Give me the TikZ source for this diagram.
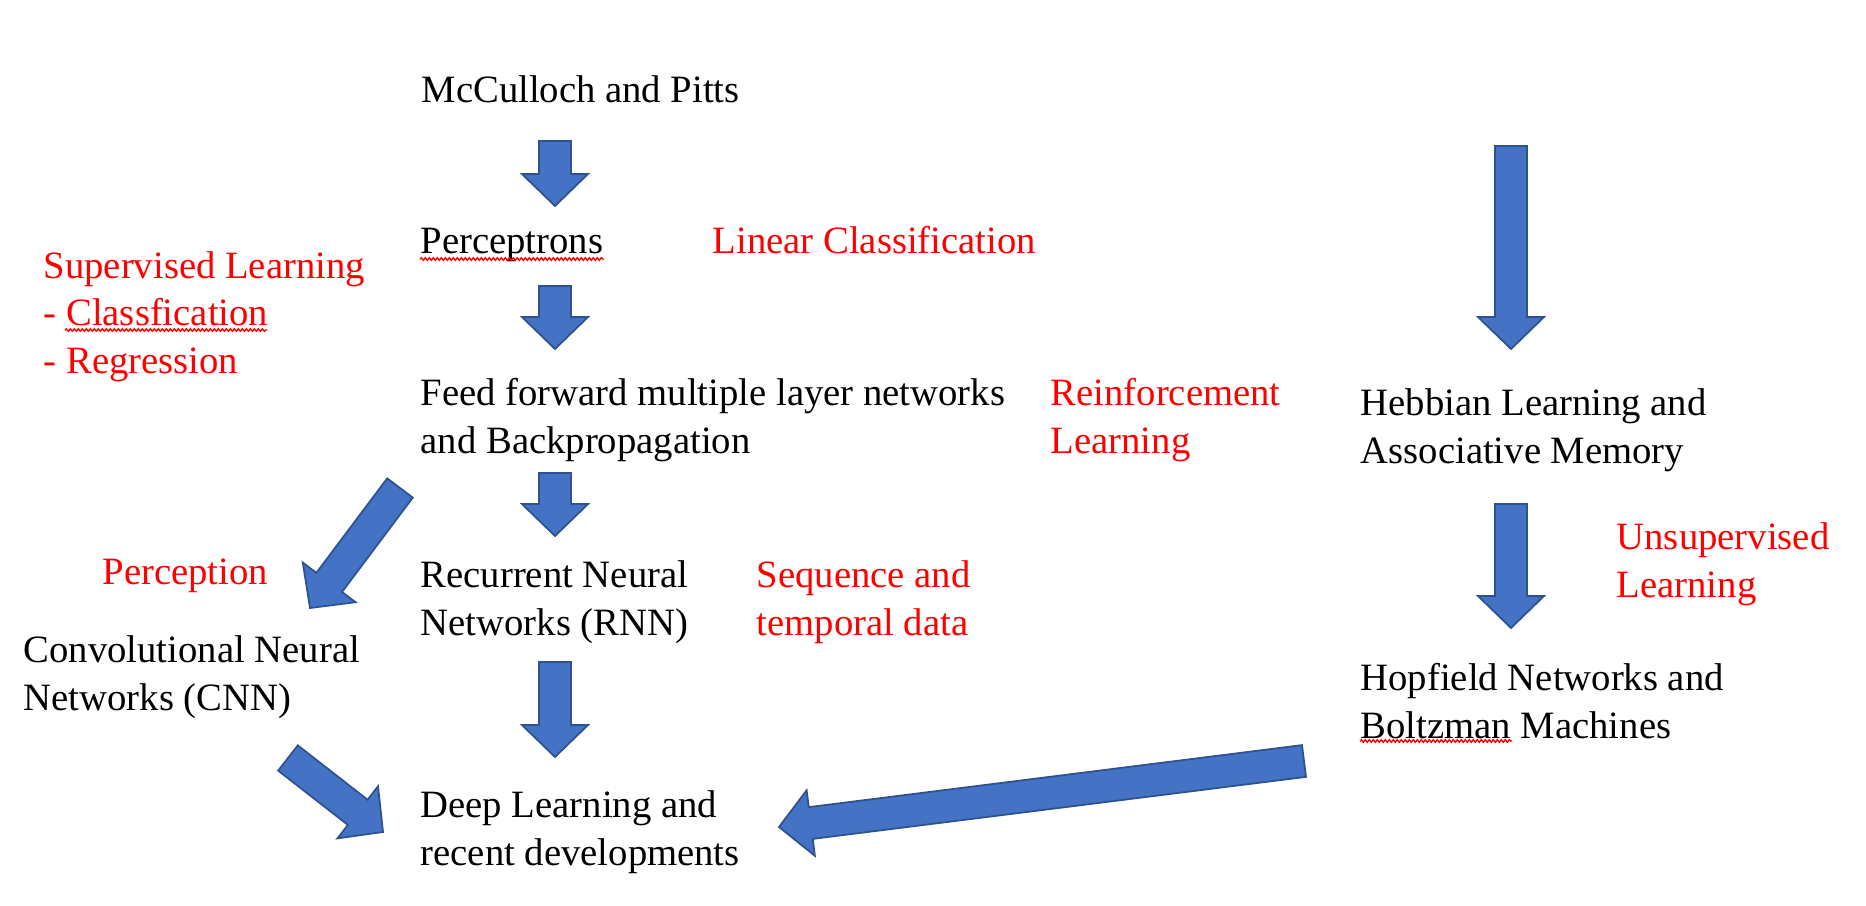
\documentclass[tikz,border=0pt]{standalone}
\usepackage{fontspec}
\setmainfont{Liberation Serif}
\usetikzlibrary{calc,decorations.pathmorphing}
\definecolor{arrblue} {RGB}{68,114,196}
\definecolor{arredge} {RGB}{47, 82,143}
\definecolor{lblred}  {RGB}{255,  0,  0}
\tikzset{
  txt/.style={anchor=base west,inner sep=0pt,align=left,
              font=\fontsize{11pt}{13.4pt}\selectfont},
  txtred/.style={txt,text=lblred},
  blkarr/.style={fill=arrblue,draw=arredge,line width=0.5pt,line join=miter},
  squig/.style={draw=lblred,line width=0.4pt,decorate,
                decoration={snake,segment length=0.04cm,amplitude=0.012cm}},
}
\newcommand{\shaftw}{0.16cm}
\newcommand{\headw}{0.33cm}
\newcommand{\headl}{0.32cm}
\newcommand{\blockarrow}[2]{%
  \path ($(#2)!\headl!(#1)$) coordinate (hd);
  \draw[blkarr] ($(#1)!\shaftw!90:(#2)$) -- ($(hd)!\shaftw!-90:(#1)$)
    -- ($(hd)!\headw!-90:(#1)$) -- (#2) -- ($(hd)!\headw!90:(#1)$)
    -- ($(hd)!\shaftw!90:(#1)$) -- ($(#1)!\shaftw!-90:(#2)$) -- cycle;
}

\begin{document}
\begin{tikzpicture}[x=0.01cm,y=-0.01cm]
  \useasboundingbox (0,0) rectangle (1866,906);

  % black boxes of the history (placed at the base of their last line)
  \node[txt] (mcp)  at (421,103) {McCulloch and Pitts};
  \node[txt] (perc) at (420,253) {Perceptrons};
  \node[txt] (ffbp) at (420,453) {Feed forward multiple layer networks\\and Backpropagation};
  \node[txt] (rnn)  at (420,635) {Recurrent Neural\\Networks (RNN)};
  \node[txt] (cnn)  at (23,710)  {Convolutional Neural\\Networks (CNN)};
  \node[txt] (deep) at (420,865) {Deep Learning and\\recent developments};
  \node[txt] (hebb) at (1360,463) {Hebbian Learning and\\Associative Memory};
  \node[txt] (hop)  at (1360,738) {Hopfield Networks and\\Boltzman Machines};

  % red notes
  \node[txtred] (lincls) at (712,253)  {Linear Classification};
  \node[txtred] (sup)    at (43,373)   {Supervised Learning\\- Classfication\\- Regression};
  \node[txtred] (reinf)  at (1050,453) {Reinforcement\\Learning};
  \node[txtred] (percep) at (102,584)  {Perception};
  \node[txtred] (seq)    at (756,635)  {Sequence and\\temporal data};
  \node[txtred] (unsup)  at (1616,597) {Unsupervised\\Learning};

  % spell check marks
  \draw[squig] ([yshift=-0.06cm]perc.base west) -- ([yshift=-0.06cm]perc.base east);
  \coordinate (clsA) at (65,330);   \coordinate (clsB) at (267,330);
  \coordinate (boltA) at (1360,741); \coordinate (boltB) at (1512,741);
  \draw[squig] (clsA) -- (clsB);
  \draw[squig] (boltA) -- (boltB);

  % block arrows
  \coordinate (a1s) at (555,141);  \coordinate (a1e) at (555,206);
  \coordinate (a2s) at (555,286);  \coordinate (a2e) at (555,349);
  \coordinate (a3s) at (555,473);  \coordinate (a3e) at (555,536);
  \coordinate (a4s) at (555,662);  \coordinate (a4e) at (555,757);
  \coordinate (h1s) at (1511,146); \coordinate (h1e) at (1511,349);
  \coordinate (h2s) at (1511,504); \coordinate (h2e) at (1511,628);
  \coordinate (c1s) at (400,488);  \coordinate (c1e) at (310,608);
  \coordinate (c2s) at (288,758);  \coordinate (c2e) at (383,832);
  \coordinate (p1s) at (1304,761); \coordinate (p1e) at (779,827);
  \blockarrow{a1s}{a1e}
  \blockarrow{a2s}{a2e}
  \blockarrow{a3s}{a3e}
  \blockarrow{a4s}{a4e}
  \blockarrow{h1s}{h1e}
  \blockarrow{h2s}{h2e}
  \blockarrow{c1s}{c1e}
  \blockarrow{c2s}{c2e}
  \blockarrow{p1s}{p1e}
\end{tikzpicture}
\end{document}
